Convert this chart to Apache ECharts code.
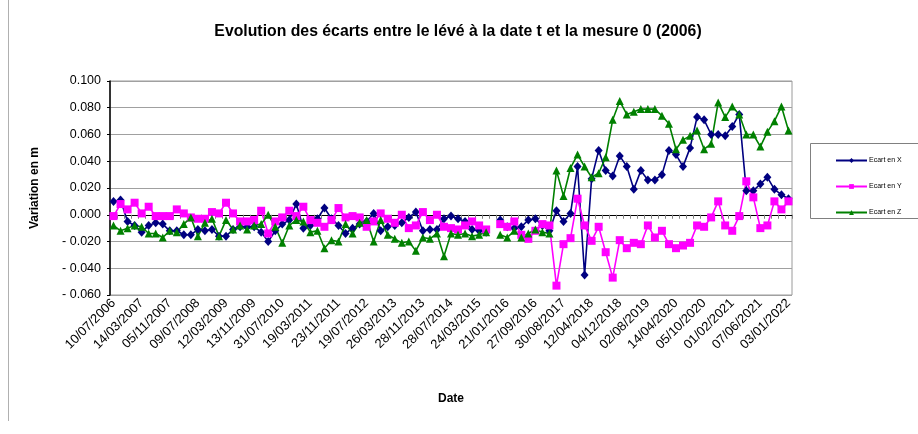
<!DOCTYPE html>
<html>
<head>
<meta charset="utf-8">
<script src="https://cdn.jsdelivr.net/npm/echarts@6/dist/echarts.min.js"></script>
<style>
  html, body { margin: 0; padding: 0; background: #fff; }
  #chart { width: 918px; height: 434px; }
</style>
</head>
<body>
<div id="chart"></div>
<script>
// Dates printed under the axis (one every fourth survey)
const dateLabels = [
  '10/07/2006', '14/03/2007', '05/11/2007', '09/07/2008', '12/03/2009',
  '13/11/2009', '31/07/2010', '19/03/2011', '23/11/2011', '19/07/2012',
  '26/03/2013', '28/11/2013', '28/07/2014', '24/03/2015', '21/01/2016',
  '27/09/2016', '30/08/2017', '12/04/2018', '04/12/2018', '02/08/2019',
  '14/04/2020', '05/10/2020', '01/02/2021', '07/06/2021', '03/01/2022'
];
const labelEvery = 4;

// Deviations from survey 0 (m), one value per survey
const ecartX = [
  0.010, 0.011, -0.005, -0.008, -0.013, -0.008, -0.006, -0.007, -0.012, -0.012,
  -0.015, -0.015, -0.011, -0.012, -0.011, -0.016, -0.016, -0.011, -0.009, -0.009,
  -0.009, -0.013, -0.020, -0.012, -0.007, -0.004, 0.008, -0.010, -0.008, -0.003,
  0.005, -0.003, -0.008, -0.014, -0.010, -0.007, -0.005, 0.001, -0.012, -0.009,
  -0.008, -0.006, -0.002, 0.002, -0.012, -0.011, -0.011, -0.003, -0.001, -0.003,
  -0.005, -0.011, -0.012, -0.013, null, -0.004, -0.009, -0.010, -0.009, -0.004,
  -0.003, -0.008, -0.012, 0.003, -0.005, 0.001, 0.036, -0.045, 0.027, 0.048,
  0.033, 0.029, 0.044, 0.036, 0.019, 0.033, 0.026, 0.026, 0.030, 0.048,
  0.045, 0.036, 0.050, 0.073, 0.071, 0.060, 0.060, 0.059, 0.066, 0.075,
  0.018, 0.018, 0.023, 0.028, 0.019, 0.015, 0.012
];
const ecartY = [
  -0.001, 0.008, 0.004, 0.009, 0.001, 0.006, -0.001, -0.001, -0.001, 0.004,
  0.001, -0.002, -0.003, -0.003, 0.002, 0.001, 0.009, 0.001, -0.005, -0.005,
  -0.004, 0.003, -0.014, -0.005, -0.002, 0.003, -0.001, 0.006, -0.004, -0.006,
  -0.009, -0.004, 0.005, -0.002, -0.001, -0.002, -0.009, -0.005, 0.001, -0.003,
  -0.006, 0.000, -0.010, -0.008, 0.002, -0.004, 0.000, -0.009, -0.010, -0.011,
  -0.008, -0.005, -0.008, -0.011, null, -0.007, -0.009, -0.005, -0.015, -0.018,
  -0.012, -0.007, -0.008, -0.053, -0.022, -0.0175, 0.012, -0.008, -0.0195, -0.009,
  -0.028, -0.047, -0.019, -0.025, -0.021, -0.022, -0.008, -0.017, -0.012, -0.022,
  -0.025, -0.023, -0.021, -0.008, -0.009, -0.002, 0.010, -0.008, -0.012, -0.001,
  0.025, 0.013, -0.010, -0.008, 0.010, 0.004, 0.010
];
const ecartZ = [
  -0.008, -0.012, -0.010, -0.008, -0.009, -0.014, -0.014, -0.017, -0.012, -0.013,
  -0.007, -0.002, -0.016, -0.006, -0.003, -0.016, -0.004, -0.011, -0.008, -0.011,
  -0.008, -0.007, 0.000, -0.009, -0.021, -0.008, -0.004, -0.005, -0.013, -0.012,
  -0.025, -0.019, -0.020, -0.007, -0.014, -0.006, -0.004, -0.020, -0.004, -0.015,
  -0.018, -0.021, -0.020, -0.027, -0.017, -0.018, -0.014, -0.031, -0.014, -0.015,
  -0.014, -0.016, -0.015, -0.013, null, -0.015, -0.017, -0.012, -0.017, -0.014,
  -0.011, -0.013, -0.014, 0.033, 0.014, 0.035, 0.045, 0.036, 0.028, 0.031,
  0.043, 0.071, 0.085, 0.075, 0.077, 0.079, 0.079, 0.079, 0.074, 0.068,
  0.049, 0.056, 0.059, 0.063, 0.049, 0.053, 0.084, 0.073, 0.081, 0.075,
  0.060, 0.060, 0.051, 0.062, 0.070, 0.081, 0.063
];

// Y axis range and step
const yMin = -0.06, yMax = 0.1, yStep = 0.02;

const surveys = ecartX.map((_, i) => 'Relevé ' + i);
const FONT = '"Liberation Sans", Arial, sans-serif';

function fmtY(v) {
  const r = Math.round(v * 1000) / 1000;
  if (r < 0) return '- ' + Math.abs(r).toFixed(3);
  return r.toFixed(3);
}

function makeSeries(name, data, color, symbol, size) {
  return {
    name, type: 'line', data,
    symbol, symbolSize: size,
    showSymbol: true,
    connectNulls: false,
    lineStyle: { color, width: 1.6 },
    itemStyle: { color, borderWidth: 0 },
    emphasis: { disabled: true },
    animation: false
  };
}

const chart = echarts.init(document.getElementById('chart'), null, { renderer: 'canvas' });
chart.setOption({
  backgroundColor: '#ffffff',
  animation: false,
  textStyle: { fontFamily: FONT },
  title: {
    text: 'Evolution des écarts entre le lévé à la date t et la mesure 0 (2006)',
    left: 453, top: 19, textAlign: 'center',
    textStyle: { fontFamily: FONT, fontSize: 15.8, fontWeight: 'bold', color: '#000' }
  },
  legend: {
    orient: 'vertical',
    left: 830, top: 152,
    itemWidth: 31, itemHeight: 6, itemGap: 19,
    textStyle: { fontFamily: FONT, fontSize: 7, color: '#000', padding: [0, 0, 0, -3] },
    data: ['Ecart en X', 'Ecart en Y', 'Ecart en Z']
  },
  grid: {
    left: 110, top: 81, width: 682, height: 214,
    show: true, borderColor: '#9a9a9a', borderWidth: 1, backgroundColor: 'transparent'
  },
  xAxis: {
    type: 'category',
    data: surveys,
    boundaryGap: true,
    name: 'Date',
    nameLocation: 'middle',
    nameGap: 98,
    nameTextStyle: { fontFamily: FONT, fontSize: 12, fontWeight: 'bold', color: '#000' },
    axisLine: { lineStyle: { color: '#000', width: 1 } },
    axisTick: { show: true, interval: 0, length: 4, lineStyle: { color: '#808080' } },
    axisLabel: {
      interval: 0, rotate: 45, margin: 6,
      fontFamily: FONT, fontSize: 13, color: '#000',
      formatter: (v, i) => (i % labelEvery === 0 ? dateLabels[i / labelEvery] : '')
    },
    splitLine: { show: false }
  },
  yAxis: {
    type: 'value',
    min: yMin, max: yMax, interval: yStep,
    name: 'Variation en m',
    nameLocation: 'middle',
    nameGap: 69,
    nameRotate: 90,
    nameTextStyle: { fontFamily: FONT, fontSize: 12, fontWeight: 'bold', color: '#000' },
    axisLine: { show: true, lineStyle: { color: '#000', width: 1.5 } },
    axisTick: { show: true, length: 3, lineStyle: { color: '#000' } },
    axisLabel: { fontFamily: FONT, fontSize: 12.5, color: '#000', margin: 9, formatter: fmtY },
    splitLine: { lineStyle: { color: '#a0a0a0', width: 1 } }
  },
  graphic: [
    {
      type: 'rect', z: 0,
      shape: { x: 810.5, y: 143.5, width: 120, height: 75 },
      style: { fill: '#fff', stroke: '#808080', lineWidth: 1 }
    },
    {
      type: 'line', z: 0,
      shape: { x1: 8.5, y1: 0, x2: 8.5, y2: 421 },
      style: { stroke: '#b0b0b0', lineWidth: 1 }
    }
  ],
  series: [
    makeSeries('Ecart en X', ecartX, '#000080', 'diamond', [8, 9]),
    makeSeries('Ecart en Y', ecartY, '#ff00ff', 'rect', 8),
    makeSeries('Ecart en Z', ecartZ, '#008000', 'triangle', 8)
  ]
});
</script>
</body>
</html>
